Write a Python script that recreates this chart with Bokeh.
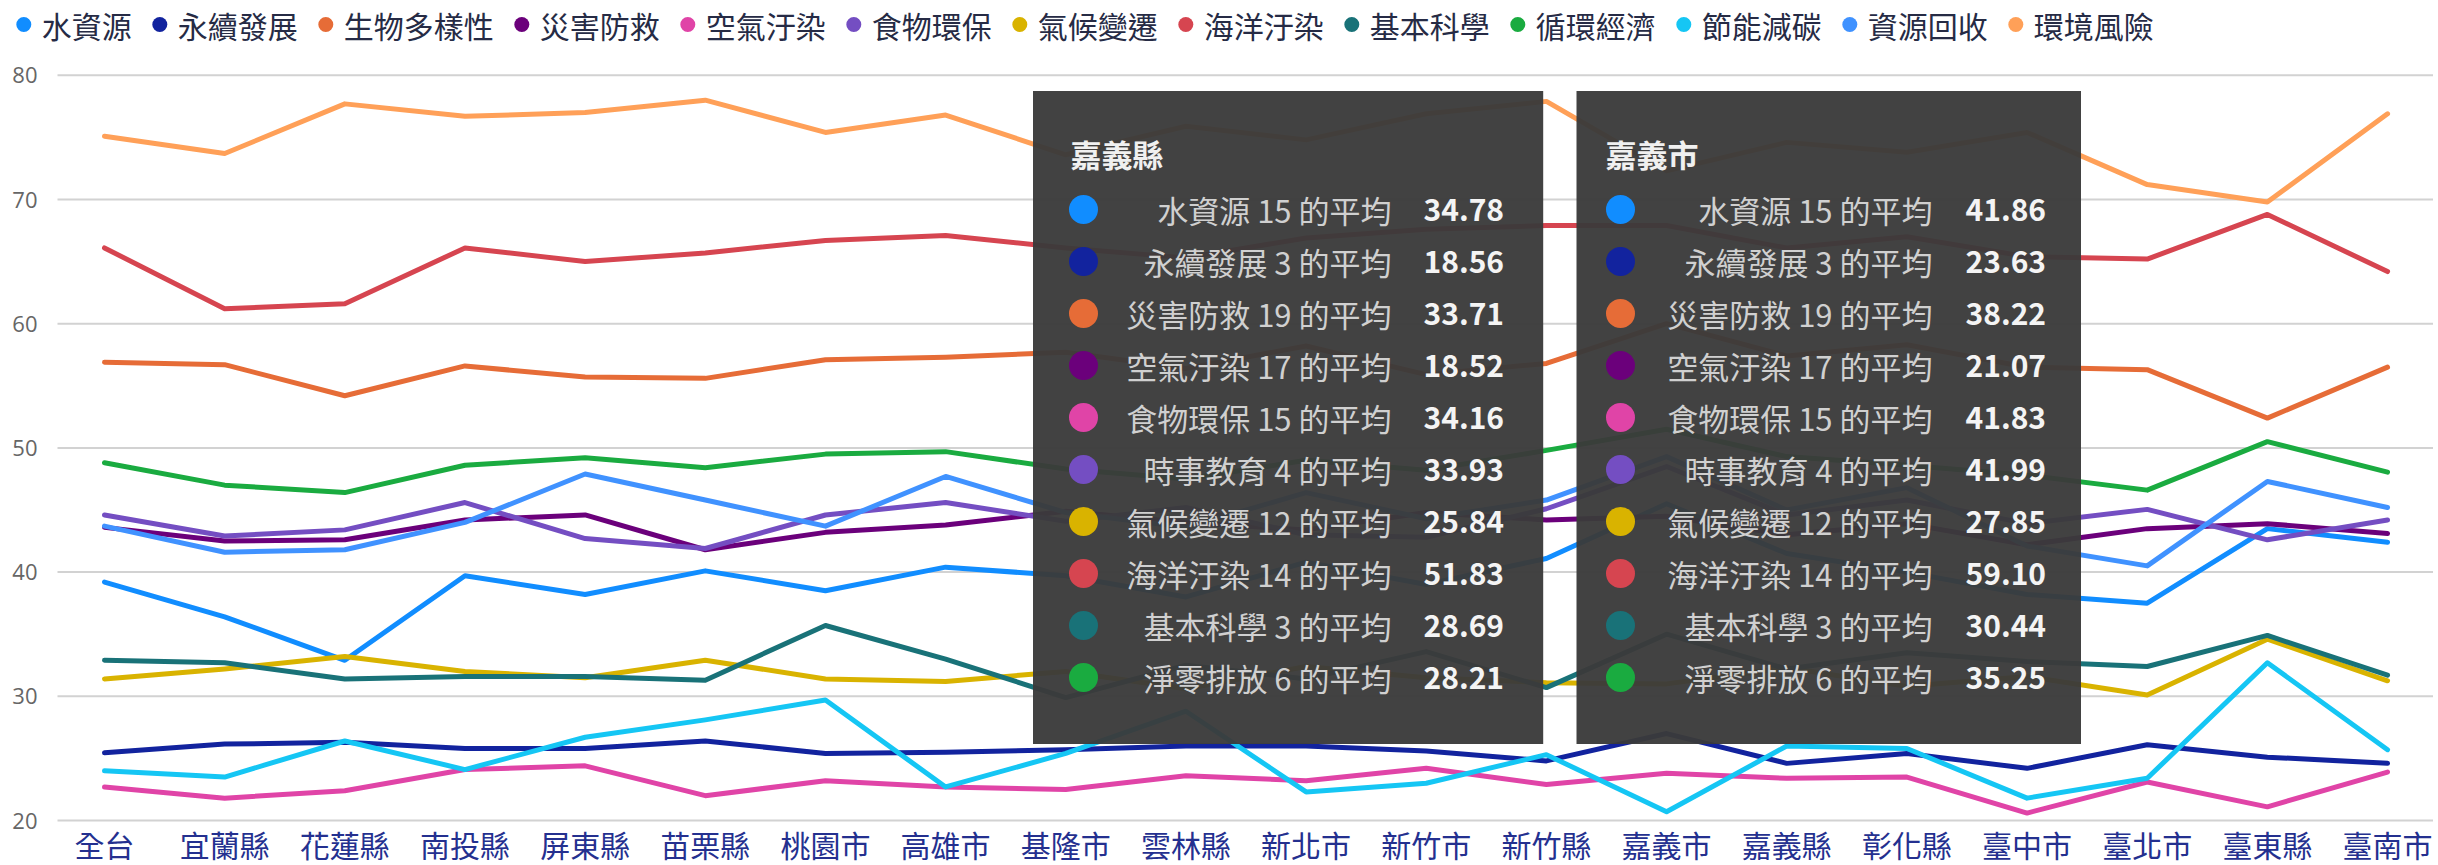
from bokeh.plotting import figure
from bokeh.models import Range1d, ColumnDataSource
from bokeh.core.properties import value
from bokeh.embed import file_html
from bokeh.resources import INLINE

# ---------------- data ----------------
categories = ["全台", "宜蘭縣", "花蓮縣", "南投縣", "屏東縣", "苗栗縣", "桃園市", "高雄市",
              "基隆市", "雲林縣", "新北市", "新竹市", "新竹縣", "嘉義市", "嘉義縣", "彰化縣",
              "臺中市", "臺北市", "臺東縣", "臺南市"]

series_names = ["水資源", "永續發展", "生物多樣性", "災害防救", "空氣汙染", "食物環保", "氣候變遷",
                "海洋汙染", "基本科學", "循環經濟", "節能減碳", "資源回收", "環境風險"]
colors = ["#118DFF", "#12239E", "#E66C37", "#6B007B", "#E044A7", "#744EC2", "#D9B300",
          "#D64550", "#197278", "#1AAB40", "#15C6F4", "#4092FF", "#FFA058"]

water    = [39.2, 36.4, 32.9, 39.7, 38.2, 40.1, 38.5, 40.4, 39.7, 38.0, 40.8, 39.0, 41.1, 45.5, 41.5, 40.0, 38.2, 37.5, 43.5, 42.4]
sustain  = [25.45, 26.15, 26.3, 25.8, 25.8, 26.4, 25.4, 25.5, 25.7, 26.0, 26.0, 25.6, 24.8, 27.0, 24.6, 25.4, 24.2, 26.1, 25.1, 24.6]
biodiv   = [56.9, 56.7, 54.2, 56.6, 55.7, 55.6, 57.1, 57.3, 57.7, 56.4, 58.2, 55.9, 56.8, 60.0, 57.4, 58.3, 56.5, 56.3, 52.4, 56.5]
disaster = [43.6, 42.5, 42.6, 44.2, 44.6, 41.8, 43.2, 43.8, 44.9, 44.0, 43.4, 44.8, 44.2, 44.5, 43.0, 43.9, 42.2, 43.5, 43.9, 43.1]
air      = [22.7, 21.8, 22.4, 24.1, 24.4, 22.0, 23.2, 22.7, 22.5, 23.6, 23.2, 24.2, 22.9, 23.8, 23.4, 23.5, 20.6, 23.1, 21.1, 23.9]
food     = [44.6, 42.9, 43.4, 45.6, 42.7, 41.9, 44.6, 45.6, 44.1, 45.2, 43.0, 42.8, 45.1, 48.5, 44.6, 45.8, 43.9, 45.05, 42.6, 44.2]
climate  = [31.4, 32.2, 33.2, 32.0, 31.5, 32.9, 31.4, 31.2, 32.0, 30.6, 32.4, 31.5, 31.1, 31.0, 32.3, 30.8, 31.6, 30.1, 34.6, 31.25]
ocean    = [66.1, 61.2, 61.6, 66.1, 65.0, 65.7, 66.7, 67.1, 66.1, 65.3, 66.9, 67.6, 67.9, 67.9, 66.1, 67.0, 65.4, 65.2, 68.8, 64.2]
science  = [32.9, 32.7, 31.4, 31.6, 31.6, 31.3, 35.7, 33.0, 29.9, 32.5, 31.4, 33.6, 30.7, 35.0, 32.2, 33.5, 32.8, 32.4, 34.9, 31.7]
circular = [48.8, 47.0, 46.4, 48.6, 49.2, 48.4, 49.5, 49.7, 48.3, 47.5, 49.0, 48.2, 49.8, 51.5, 49.3, 48.6, 47.8, 46.6, 50.5, 48.05]
carbon   = [24.0, 23.5, 26.4, 24.1, 26.7, 28.1, 29.7, 22.7, 25.4, 28.8, 22.3, 23.0, 25.3, 20.7, 26.0, 25.8, 21.8, 23.4, 32.7, 25.7]
recycle  = [43.7, 41.6, 41.8, 44.0, 47.9, 45.8, 43.7, 47.7, 44.8, 43.6, 46.4, 44.3, 45.8, 49.3, 45.0, 46.8, 42.1, 40.5, 47.3, 45.2]
risk     = [75.1, 73.7, 77.7, 76.7, 77.0, 78.0, 75.4, 76.8, 73.6, 75.9, 74.8, 76.9, 77.9, 72.3, 74.6, 73.8, 75.4, 71.2, 69.8, 76.9]

series_values = [water, sustain, biodiv, disaster, air, food, climate, ocean, science,
                 circular, carbon, recycle, risk]

y_ticks = [20, 30, 40, 50, 60, 70, 80]
y_tick_labels = [str(t) for t in y_ticks]

# tooltip contents
tip_names = ["水資源 15 的平均", "永續發展 3 的平均", "災害防救 19 的平均", "空氣汙染 17 的平均",
             "食物環保 15 的平均", "時事教育 4 的平均", "氣候變遷 12 的平均", "海洋汙染 14 的平均",
             "基本科學 3 的平均", "淨零排放 6 的平均"]
tip_colors = colors[:10]
tip1_title = "嘉義縣"
tip1_values = [34.78, 18.56, 33.71, 18.52, 34.16, 33.93, 25.84, 51.83, 28.69, 28.21]
tip2_title = "嘉義市"
tip2_values = [41.86, 23.63, 38.22, 21.07, 41.83, 41.99, 27.85, 59.10, 30.44, 35.25]

# ---------------- layout (canvas pixels) ----------------
W, H = 2433, 865
GRID_L, GRID_R = 57, 2433   # extent of the horizontal gridlines
X0, DX = 104.0, 120.16      # pixel x of first category, spacing
Y80, Y20 = 74.8, 820.0      # pixel y of the 80 and 20 gridlines
K = 60.0 / (Y20 - Y80)      # value units per pixel

def dx(X):
    return (X - X0) / DX

def dy(Y):
    return 80 - (Y - Y80) * K

CJK = "Noto Sans CJK TC"

p = figure(width=W, height=H, output_backend="svg", toolbar_location=None,
           x_range=Range1d(dx(0), dx(W)), y_range=Range1d(dy(H), dy(0)),
           x_axis_location=None, y_axis_location=None,
           min_border_left=0, min_border_right=0, min_border_top=0, min_border_bottom=0)
p.outline_line_color = None
p.background_fill_color = "white"
p.border_fill_color = "white"
p.grid.visible = False

# value scale: gridlines and tick labels
n_t = len(y_ticks)
p.segment(x0=[dx(GRID_L)] * n_t, x1=[dx(GRID_R)] * n_t, y0=y_ticks, y1=y_ticks,
          line_color="#d2d2d2", line_width=2)
p.text(x=[dx(37)] * n_t, y=y_ticks, text=y_tick_labels, text_font=value("Open Sans"),
       text_font_size=value("22px"), text_color="#666666",
       text_align="right", text_baseline="middle")

xs = list(range(len(categories)))

# category labels under the 20 gridline
p.text(x=xs, y=[dy(843)] * len(xs), text=categories, text_font=value(CJK),
       text_font_size=value("30px"), text_color="#24308f",
       text_align="center", text_baseline="middle")

for name, vals, col in zip(series_names, series_values, colors):
    p.line(xs, vals, line_color=col, line_width=5, line_join="round", line_cap="round")

# legend row (circle + name), laid out left to right
leg_x, cx = [], 23.3
for name in series_names:
    leg_x.append(cx)
    cx += 30 * len(name) + 46
p.scatter(x=[dx(c) for c in leg_x], y=[dy(24)] * len(leg_x), size=15, marker="circle",
          fill_color=colors, line_color=None)
p.text(x=[dx(c + 18) for c in leg_x], y=[dy(24)] * len(leg_x), text=series_names,
       text_font=value(CJK), text_font_size=value("30px"), text_color="#262b45",
       text_align="left", text_baseline="middle")

# ---------------- tooltips ----------------
def tooltip(left, right, top, bottom, title_x, circ_x, lab_x, val_x, title, values):
    p.quad(left=[dx(left)], right=[dx(right)], top=[dy(top)], bottom=[dy(bottom)],
           fill_color="#3a3a3a", fill_alpha=0.96, line_color=None)
    p.text(x=[dx(title_x)], y=[dy(153)], text=[title], text_font=value(CJK),
           text_font_size=value("31px"), text_font_style="bold", text_color="#f0f0f0",
           text_align="left", text_baseline="middle")
    rows_y = [dy(209 + 52 * k) for k in range(len(values))]
    p.scatter(x=[dx(circ_x)] * len(values), y=rows_y, size=29, marker="circle",
              fill_color=tip_colors, line_color=None)
    src = ColumnDataSource(dict(x=[dx(lab_x)] * len(values), y=rows_y, t=tip_names))
    p.text(x="x", y="y", text="t", source=src, text_font=value(CJK),
           text_font_size=value("31px"), text_color="#d0d0d0",
           text_align="right", text_baseline="middle")
    src2 = ColumnDataSource(dict(x=[dx(val_x)] * len(values), y=rows_y,
                                 t=["%.2f" % v for v in values]))
    p.text(x="x", y="y", text="t", source=src2, text_font=value(CJK),
           text_font_size=value("30px"), text_font_style="bold", text_color="#f4f4f4",
           text_align="left", text_baseline="middle")

tooltip(1032.5, 1542.7, 90.5, 743.5, 1070, 1083, 1391, 1423, tip1_title, tip1_values)
tooltip(1576, 2080.5, 90.5, 743.5, 1605, 1620, 1932, 1965, tip2_title, tip2_values)

open("out.html", "w").write(file_html(p, INLINE))
